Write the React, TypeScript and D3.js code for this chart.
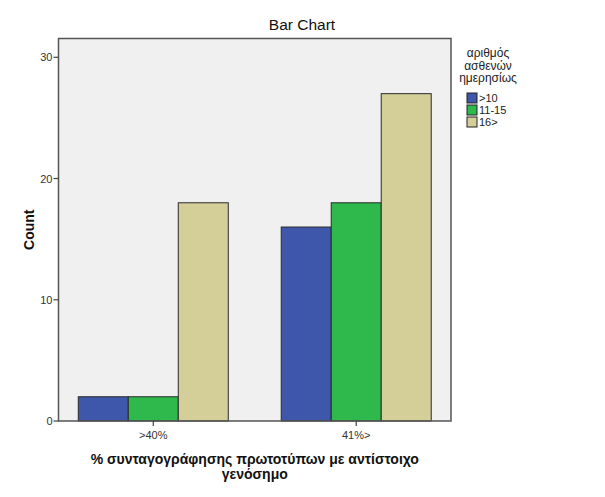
import React from "react";
import * as d3 from "d3";

const categories = [">40%", "41%>"];
const seriesNames = [">10", "11-15", "16>"];
const seriesValues = [
  [2, 16],
  [2, 18],
  [18, 27],
];
const colors = ["#3f57aa", "#2fb84b", "#d4cf99"];
const yTicks = [0, 10, 20, 30];
const legendTitle = ["αριθμός", "ασθενών", "ημερησίως"];
const xTitle = ["% συνταγογράφησης πρωτοτύπων με αντίστοιχο", "γενόσημο"];

export default function App() {
  const W = 605, H = 497;
  const left = 58.5, right = 451, top = 38.5, bottom = 421;
  const y = d3.scaleLinear().domain([0, 31.55]).range([bottom, top]);
  const x = d3.scalePoint<string>().domain(categories).range([left, right]).padding(0.467);
  const inner = d3.scaleBand<number>().domain([0, 1, 2]).range([-75, 75]).padding(0);
  const font = "Liberation Sans, Arial, sans-serif";
  return (
    <svg width={W} height={H} style={{ position: "absolute", left: 0, top: 0 }} fontFamily={font}>
      <rect x={0} y={0} width={W} height={H} fill="#ffffff" />
      <text x={302} y={30} textAnchor="middle" fontSize={15.5} fill="#111">Bar Chart</text>
      <rect x={left} y={top} width={right - left} height={bottom - top} fill="#f0f0f0" />
      {categories.map((c, ci) =>
        seriesValues.map((vals, si) => {
          const x0 = (x(c) as number) + (inner(si) as number);
          const bw = inner.bandwidth();
          return (
            <rect key={`${ci}-${si}`} x={x0} y={y(vals[ci])} width={bw} height={bottom - y(vals[ci])}
              fill={colors[si]} stroke="#2a2a2a" strokeWidth={1} />
          );
        })
      )}
      <rect x={left} y={top} width={right - left} height={bottom - top} fill="none" stroke="#555" strokeWidth={1.5} />
      {yTicks.map((t) => (
        <g key={t}>
          <line x1={left - 5} x2={left} y1={y(t)} y2={y(t)} stroke="#444" strokeWidth={1.2} />
          <text x={left - 6} y={y(t) + 4} textAnchor="end" fontSize={11} fill="#333">{t}</text>
        </g>
      ))}
      {categories.map((c) => (
        <g key={c}>
          <line x1={x(c)} x2={x(c)} y1={bottom} y2={bottom + 5} stroke="#444" strokeWidth={1.2} />
          <text x={x(c)} y={bottom + 18} textAnchor="middle" fontSize={11} fill="#333">{c}</text>
        </g>
      ))}
      <text transform={`translate(34,${(top + bottom) / 2}) rotate(-90)`} textAnchor="middle" fontSize={14} fontWeight="bold" fill="#111">Count</text>
      {xTitle.map((t, i) => (
        <text key={i} x={(left + right) / 2} y={464 + i * 14.5} textAnchor="middle" fontSize={14} fontWeight="bold" fill="#111">{t}</text>
      ))}
      {legendTitle.map((t, i) => (
        <text key={i} x={488} y={57 + i * 12.5} textAnchor="middle" fontSize={12} fill="#222">{t}</text>
      ))}
      {seriesNames.map((s, i) => (
        <g key={s}>
          <rect x={467} y={93 + i * 12} width={10} height={10} fill={colors[i]} stroke="#222" strokeWidth={1} />
          <text x={479} y={102 + i * 12} fontSize={11} fill="#222">{s}</text>
        </g>
      ))}
    </svg>
  );
}
